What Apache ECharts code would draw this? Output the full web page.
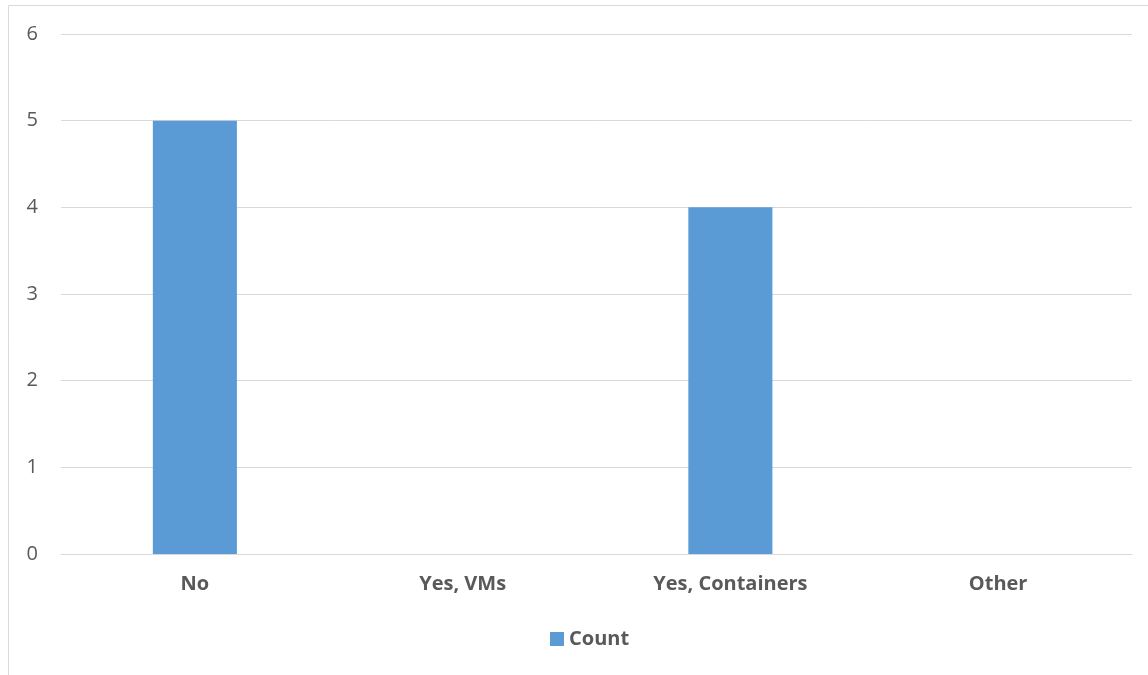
<!DOCTYPE html>
<html>
<head>
<meta charset="utf-8">
<script src="https://cdn.jsdelivr.net/npm/echarts@6/dist/echarts.min.js"></script>
<style>
  html, body { margin: 0; padding: 0; background: #fff; }
  #chart { width: 1148px; height: 675px; }
</style>
</head>
<body>
<div id="chart"></div>
<script>
// Answer categories and their counts
const categories = ['No', 'Yes, VMs', 'Yes, Containers', 'Other'];
const counts = [5, 0, 4, 0];
const seriesName = 'Count';
const yMin = 0, yMax = 6, yStep = 1;

const chart = echarts.init(document.getElementById('chart'), null, { renderer: 'canvas' });

const font = '"Open Sans", "Noto Sans", sans-serif';

chart.setOption({
  animation: false,
  backgroundColor: '#ffffff',
  graphic: [{
    type: 'rect',
    shape: { x: 8.5, y: 5.5, width: 1200, height: 700 },
    style: { fill: 'none', stroke: '#d9d9d9', lineWidth: 1 },
    silent: true
  }],
  grid: { left: 61, right: 16, top: 34, bottom: 121, containLabel: false },
  legend: {
    top: 624,
    left: 545,
    itemWidth: 14,
    itemHeight: 14,
    itemGap: 10,
    icon: 'rect',
    textStyle: { fontFamily: font, fontSize: 20, fontWeight: 'bold', color: '#595959' },
    data: [seriesName]
  },
  xAxis: {
    type: 'category',
    data: categories,
    axisLine: { show: true, lineStyle: { color: '#d9d9d9', width: 1 } },
    axisTick: { show: false },
    axisLabel: { fontFamily: font, fontSize: 20, fontWeight: 'bold', color: '#595959', margin: 20 }
  },
  yAxis: {
    type: 'value',
    min: yMin, max: yMax, interval: yStep,
    axisLine: { show: false },
    axisTick: { show: false },
    splitLine: { lineStyle: { color: '#d9d9d9', width: 1 } },
    axisLabel: { fontFamily: font, fontSize: 20, color: '#595959', margin: 23 }
  },
  series: [{
    name: seriesName,
    type: 'bar',
    data: counts,
    barWidth: '31.4%',
    itemStyle: { color: '#5b9bd5' }
  }]
});
</script>
</body>
</html>
